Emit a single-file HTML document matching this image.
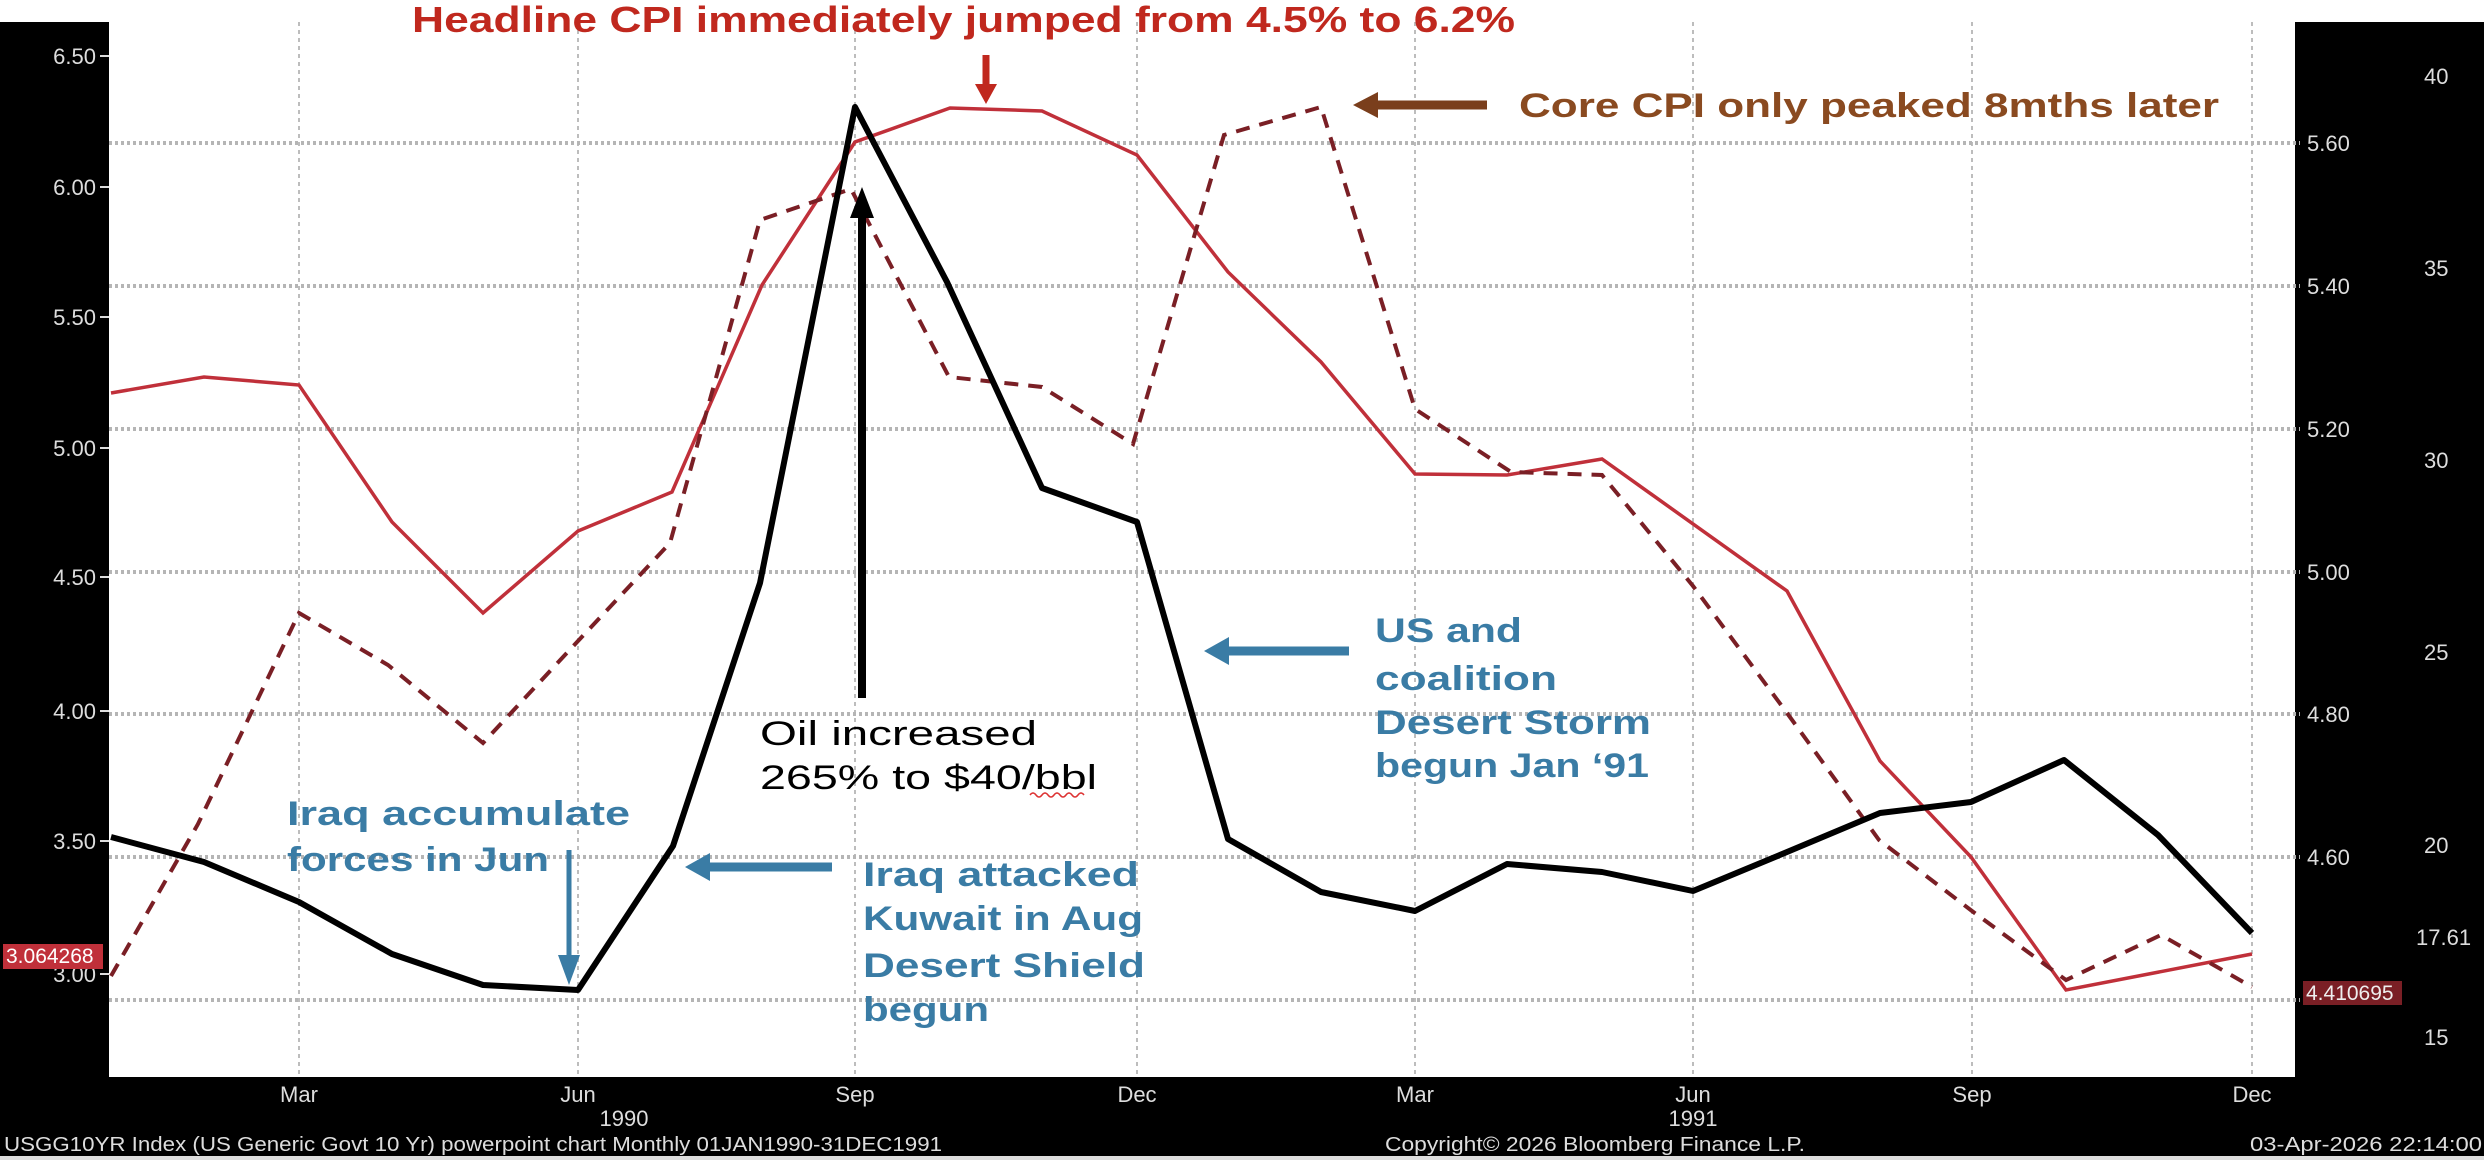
<!DOCTYPE html>
<html><head><meta charset="utf-8"><style>
html,body{margin:0;padding:0;background:#fff;}
svg{display:block;}
text{font-family:"Liberation Sans",sans-serif;}
</style></head><body>
<svg width="2484" height="1160" viewBox="0 0 2484 1160" xmlns="http://www.w3.org/2000/svg">
<rect x="0" y="0" width="2484" height="1160" fill="#fff"/>
<!-- black frames -->
<rect x="0" y="22" width="109" height="1138" fill="#000"/>
<rect x="2295" y="22" width="189" height="1138" fill="#000"/>
<rect x="0" y="1077" width="2484" height="83" fill="#000"/>
<rect x="0" y="1156" width="2484" height="4" fill="#ddd"/>
<!-- vertical grid -->
<g stroke="#bdbdbd" stroke-width="2" stroke-dasharray="4,4">
<line x1="299" y1="22" x2="299" y2="1077"/><line x1="578" y1="22" x2="578" y2="1077"/>
<line x1="855" y1="22" x2="855" y2="1077"/><line x1="1137" y1="22" x2="1137" y2="1077"/>
<line x1="1415" y1="22" x2="1415" y2="1077"/><line x1="1693" y1="22" x2="1693" y2="1077"/>
<line x1="1972" y1="22" x2="1972" y2="1077"/><line x1="2252" y1="22" x2="2252" y2="1077"/>
</g>
<!-- horizontal grid -->
<g stroke="#b5b5b5" stroke-width="4" stroke-dasharray="3,3">
<line x1="109" y1="143" x2="2300" y2="143"/><line x1="109" y1="286" x2="2300" y2="286"/>
<line x1="109" y1="429" x2="2300" y2="429"/><line x1="109" y1="572" x2="2300" y2="572"/>
<line x1="109" y1="714" x2="2300" y2="714"/><line x1="109" y1="857" x2="2300" y2="857"/>
<line x1="109" y1="1000" x2="2300" y2="1000"/>
</g>
<!-- left axis labels -->
<g fill="#ddd" font-size="22" text-anchor="end">
<text x="96" y="64">6.50</text><text x="96" y="195">6.00</text><text x="96" y="325">5.50</text>
<text x="96" y="456">5.00</text><text x="96" y="585">4.50</text><text x="96" y="719">4.00</text>
<text x="96" y="849">3.50</text><text x="96" y="982">3.00</text>
</g>
<g stroke="#ddd" stroke-width="2">
<line x1="100" y1="56" x2="109" y2="56"/><line x1="100" y1="187" x2="109" y2="187"/><line x1="100" y1="317" x2="109" y2="317"/>
<line x1="100" y1="448" x2="109" y2="448"/><line x1="100" y1="577" x2="109" y2="577"/><line x1="100" y1="711" x2="109" y2="711"/>
<line x1="100" y1="841" x2="109" y2="841"/><line x1="100" y1="974" x2="109" y2="974"/>
</g>
<!-- right labels -->
<g fill="#ddd" font-size="22">
<text x="2307" y="151">5.60</text><text x="2307" y="294">5.40</text><text x="2307" y="437">5.20</text>
<text x="2307" y="580">5.00</text><text x="2307" y="722">4.80</text><text x="2307" y="865">4.60</text>
</g>
<g fill="#ddd" font-size="22">
<text x="2424" y="84">40</text><text x="2424" y="276">35</text><text x="2424" y="468">30</text>
<text x="2424" y="660">25</text><text x="2424" y="853">20</text><text x="2416" y="945">17.61</text><text x="2424" y="1045">15</text>
</g>
<rect x="2303" y="981" width="99" height="24" fill="#7a1f25"/>
<text x="2306" y="1000" fill="#eee" font-size="21">4.410695</text>
<rect x="3" y="944" width="100" height="25" fill="#c0303a"/>
<text x="6" y="963" fill="#fff" font-size="21">3.064268</text>
<!-- x labels -->
<g fill="#ddd" font-size="22" text-anchor="middle">
<text x="299" y="1102">Mar</text><text x="578" y="1102">Jun</text><text x="855" y="1102">Sep</text><text x="1137" y="1102">Dec</text>
<text x="1415" y="1102">Mar</text><text x="1693" y="1102">Jun</text><text x="1972" y="1102">Sep</text><text x="2252" y="1102">Dec</text>
<text x="624" y="1126">1990</text><text x="1693" y="1126">1991</text>
</g>
<g fill="#ddd" font-size="20" font-family="Liberation Sans">
<text x="4" y="1151" textLength="938" lengthAdjust="spacingAndGlyphs">USGG10YR Index (US Generic Govt 10 Yr) powerpoint chart Monthly 01JAN1990-31DEC1991</text>
<text x="1385" y="1151" textLength="420" lengthAdjust="spacingAndGlyphs">Copyright© 2026 Bloomberg Finance L.P.</text>
<text x="2250" y="1151" textLength="232" lengthAdjust="spacingAndGlyphs">03-Apr-2026 22:14:00</text>
</g>
<!-- series -->
<polyline fill="none" stroke="#c0303a" stroke-width="3.5" points="111,393 204,377 299,385 392,522 483,613 578,531 672,492 762,285 855,142 950,108 1042,111 1137,155 1228,272 1321,362 1415,474 1507,475 1602,459 1787,591 1880,761 1971,857 2066,990 2252,954"/>
<polyline fill="none" stroke="#7a1f25" stroke-width="4" stroke-dasharray="14,10" points="111,976 198,824 299,613 388,665 483,743 578,641 670,543 760,220 851,189 949,377 1042,387 1133,444 1224,135 1321,107 1415,409 1511,472 1602,475 1693,586 1787,713 1879,840 1972,911 2066,980 2161,935 2252,987"/>
<polyline fill="none" stroke="#000" stroke-width="6" stroke-linejoin="round" points="111,837 204,862 299,902 392,954 483,985 578,990 673,846 760,583 855,107 947,282 1042,488 1137,522 1228,839 1321,892 1415,911 1507,864 1602,872 1693,891 1787,852 1880,813 1971,802 2064,760 2158,835 2252,933"/>
<!-- annotations -->
<text x="412" y="32" fill="#c0281e" font-size="36" font-weight="bold" textLength="1103" lengthAdjust="spacingAndGlyphs">Headline CPI immediately jumped from 4.5% to 6.2%</text>
<line x1="986" y1="55" x2="986" y2="88" stroke="#c0281e" stroke-width="7"/>
<polygon points="975,84 997,84 986,104" fill="#c0281e"/>
<line x1="1375" y1="105" x2="1487" y2="105" stroke="#7a3e1c" stroke-width="9"/>
<polygon points="1353,105 1378,92 1378,118" fill="#7a3e1c"/>
<text x="1519" y="117" fill="#8a4a20" font-size="34" font-weight="bold" textLength="700" lengthAdjust="spacingAndGlyphs">Core CPI only peaked 8mths later</text>
<line x1="862" y1="215" x2="862" y2="698" stroke="#000" stroke-width="8"/>
<polygon points="862,187 850,218 874,218" fill="#000"/>
<g fill="#000" font-size="34">
<text x="760" y="745" textLength="277" lengthAdjust="spacingAndGlyphs">Oil increased</text>
<text x="760" y="789" textLength="337" lengthAdjust="spacingAndGlyphs">265% to $40/bbl</text>
</g>
<g fill="#3a7ca5" font-size="34" font-weight="bold">
<text x="287" y="825" textLength="343" lengthAdjust="spacingAndGlyphs">Iraq accumulate</text>
<text x="287" y="871" textLength="262" lengthAdjust="spacingAndGlyphs">forces in Jun</text>
<text x="863" y="886" textLength="276" lengthAdjust="spacingAndGlyphs">Iraq attacked</text>
<text x="863" y="930" textLength="280" lengthAdjust="spacingAndGlyphs">Kuwait in Aug</text>
<text x="863" y="977" textLength="282" lengthAdjust="spacingAndGlyphs">Desert Shield</text>
<text x="863" y="1021" textLength="126" lengthAdjust="spacingAndGlyphs">begun</text>
<text x="1375" y="642" textLength="147" lengthAdjust="spacingAndGlyphs">US and</text>
<text x="1375" y="690" textLength="182" lengthAdjust="spacingAndGlyphs">coalition</text>
<text x="1375" y="734" textLength="276" lengthAdjust="spacingAndGlyphs">Desert Storm</text>
<text x="1375" y="777" textLength="274" lengthAdjust="spacingAndGlyphs">begun Jan ‘91</text>
</g>
<line x1="569" y1="850" x2="569" y2="960" stroke="#3a7ca5" stroke-width="5"/>
<polygon points="569,985 558,955 580,955" fill="#3a7ca5"/>
<line x1="705" y1="867" x2="832" y2="867" stroke="#3a7ca5" stroke-width="9"/>
<polygon points="685,867 710,853 710,881" fill="#3a7ca5"/>
<line x1="1224" y1="651" x2="1349" y2="651" stroke="#3a7ca5" stroke-width="9"/>
<polygon points="1204,651 1229,637 1229,665" fill="#3a7ca5"/>
<path d="M1030,795 q3,-4 6,0 t6,0 t6,0 t6,0 t6,0 t6,0 t6,0 t6,0 t6,0" stroke="#d33" stroke-width="1.5" fill="none"/>
</svg>
</body></html>
